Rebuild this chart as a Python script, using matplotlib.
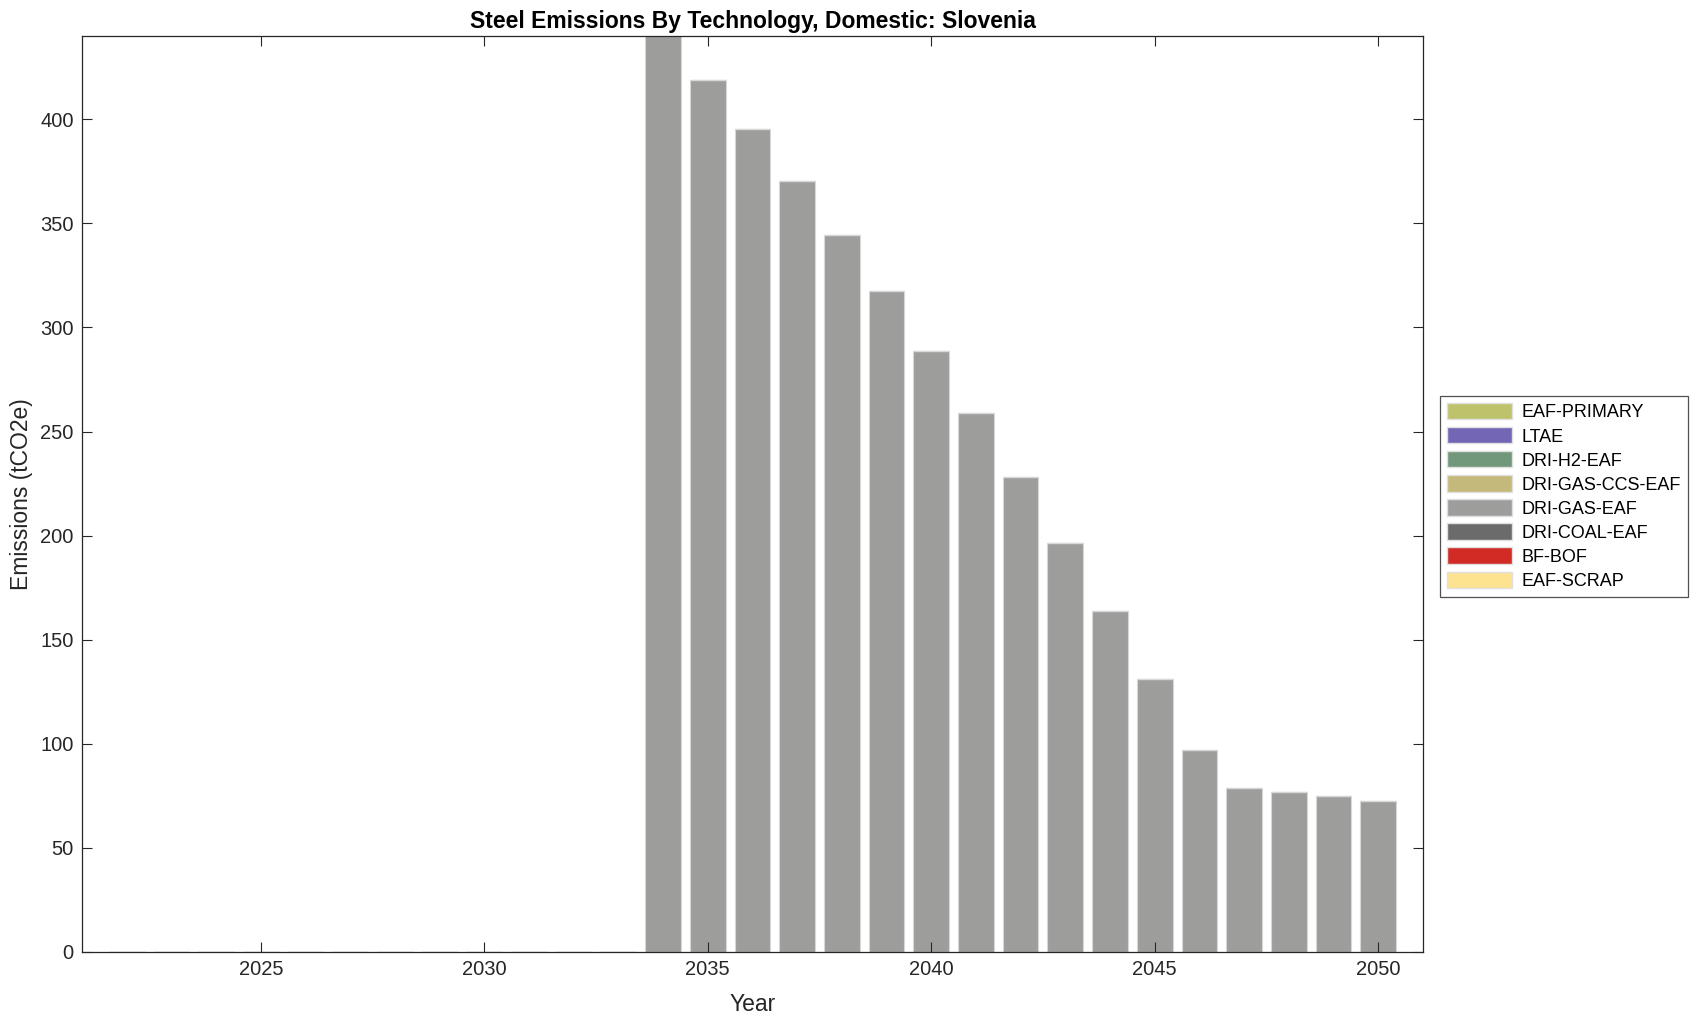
import numpy as np
from matplotlib import pyplot as plt
from matplotlib.patches import Patch

plt.rcParams['font.family'] = ['Liberation Sans', 'DejaVu Sans']

years = np.arange(2022, 2051)
techs = ['EAF-SCRAP', 'BF-BOF', 'DRI-COAL-EAF', 'DRI-GAS-EAF',
         'DRI-GAS-CCS-EAF', 'DRI-H2-EAF', 'LTAE', 'EAF-PRIMARY']
colors = ['#fde28f', '#d22b26', '#6b6b6b', '#9d9d9c',
          '#c4b97a', '#72987b', '#7366b5', '#bdc36a']

dri_gas_eaf = [0, 0, 0, 0, 0, 0, 0, 0, 0, 0, 0, 0,
               441, 418.8, 395.3, 370.2, 344.6, 317.5, 288.8, 259.0,
               228.2, 196.3, 164.0, 131.1, 97.1, 78.9, 76.8, 74.7, 72.6]
zeros = [0] * len(years)
data = {t: zeros for t in techs}
data['DRI-GAS-EAF'] = dri_gas_eaf

fig = plt.figure(figsize=(17.02, 10.21), dpi=100)
ax = fig.add_axes([0.0482, 0.0676, 0.7878, 0.8971])

bottom = np.zeros(len(years))
for t, c in zip(techs, colors):
    vals = np.array(data[t], dtype=float)
    ax.bar(years, vals, width=0.8, bottom=bottom, color=c,
           edgecolor='#d8d8d8', linewidth=0.8)
    bottom += vals

ax.set_xlim(2021, 2051)
ax.set_ylim(0, 440)
ax.set_xticks([2025, 2030, 2035, 2040, 2045, 2050])
ax.set_yticks(range(0, 401, 50))
ax.tick_params(direction='in', length=7, width=0.8, top=True, right=True,
               labelsize=14.5, colors='#262626', pad=6)
for s in ax.spines.values():
    s.set_linewidth(0.9)
    s.set_color('#262626')

ax.set_xlabel('Year', fontsize=16.5, labelpad=10, color='#262626')
ax.set_ylabel('Emissions (tCO2e)', fontsize=16.5, labelpad=5, color='#262626')
ax.set_title('Steel Emissions By Technology, Domestic: Slovenia',
             fontsize=16.5, fontweight='bold', pad=6)

handles = [Patch(facecolor=c, edgecolor='#e0e0e0', label=t)
           for t, c in zip(techs[::-1], colors[::-1])]
leg = fig.legend(handles=handles, loc='upper left',
                 bbox_to_anchor=(1440 / 1702, 1 - 396 / 1021),
                 fontsize=13, frameon=True, fancybox=False,
                 edgecolor='#262626', handlelength=3.6, handleheight=1.0,
                 labelspacing=0.32, borderpad=0.4, handletextpad=0.5,
                 borderaxespad=0)
leg.get_frame().set_linewidth(0.9)

fig.savefig('out.png', dpi=100)
